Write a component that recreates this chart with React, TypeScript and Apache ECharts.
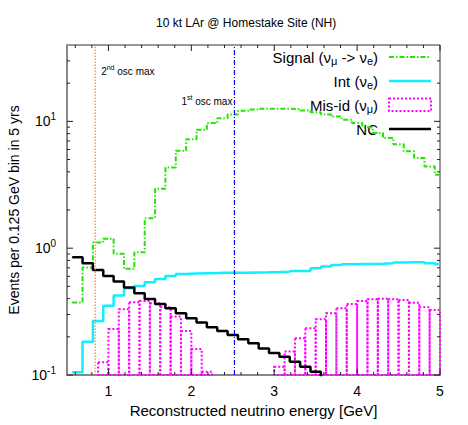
import React, { useEffect, useRef } from 'react';
import * as echarts from 'echarts';

// histogram step points (GeV), gnuplot "histeps" style
const stepEnergies = [0.625, 0.75, 0.875, 1.0, 1.125, 1.25, 1.375, 1.5, 1.625, 1.75, 1.875, 2.0, 2.125, 2.25, 2.375, 2.5, 2.625, 2.75, 2.875, 3.0, 3.125, 3.25, 3.375, 3.5, 3.625, 3.75, 3.875, 4.0, 4.125, 4.25, 4.375, 4.5, 4.625, 4.75, 4.875, 5.0];
const signal = [0.373, 0.703, 1.107, 1.184, 0.902, 0.687, 0.929, 1.725, 2.94, 4.33, 5.86, 7.24, 8.59, 9.7, 10.6, 11.3, 12.1, 12.4, 12.6, 12.6, 12.6, 12.5, 12.2, 11.8, 11.3, 10.9, 10.3, 9.7, 9.0, 8.1, 7.4, 6.6, 5.8, 5.13, 4.41, 3.79];
const intrinsic = [0.105, 0.183, 0.267, 0.351, 0.423, 0.483, 0.504, 0.539, 0.572, 0.604, 0.627, 0.632, 0.635, 0.637, 0.64, 0.641, 0.641, 0.643, 0.645, 0.648, 0.652, 0.662, 0.662, 0.695, 0.716, 0.738, 0.748, 0.752, 0.752, 0.755, 0.76, 0.77, 0.775, 0.775, 0.762, 0.748];
const nc = [0.849, 0.762, 0.674, 0.604, 0.545, 0.489, 0.441, 0.398, 0.363, 0.336, 0.307, 0.28, 0.259, 0.238, 0.222, 0.207, 0.191, 0.178, 0.162, 0.149, 0.139, 0.127, 0.116, 0.106, 0.09];
// mis-id boxes (centers, GeV) and heights
const misidCenters = [0.9375, 1.0625, 1.1875, 1.3125, 1.4375, 1.5625, 1.6875, 1.8125, 1.9375, 2.0625, 2.1875, 3.0625, 3.1875, 3.3125, 3.4375, 3.5625, 3.6875, 3.8125, 3.9375, 4.0625, 4.1875, 4.3125, 4.4375, 4.5625, 4.6875, 4.8125, 4.9375];
const misid = [0.126, 0.231, 0.33, 0.375, 0.384, 0.368, 0.342, 0.289, 0.222, 0.16, 0.106, 0.116, 0.153, 0.195, 0.234, 0.275, 0.307, 0.336, 0.363, 0.384, 0.396, 0.4, 0.396, 0.391, 0.372, 0.342, 0.326];

const xMajorTicks = [1, 2, 3, 4, 5];
const xMinorTicks = [0.6, 0.8, 1.2, 1.4, 1.6, 1.8, 2.2, 2.4, 2.6, 2.8, 3.2, 3.4, 3.6, 3.8, 4.2, 4.4, 4.6, 4.8];
const yMajorTicks = [0.1, 1, 10];
const yMinorTicks = [0.2, 0.3, 0.4, 0.5, 0.6, 0.7, 0.8, 0.9, 2, 3, 4, 5, 6, 7, 8, 9, 20, 30];

const osc2nd = 0.84;
const osc1st = 2.52;

const BIN = 0.125;
const X_MIN = 0.5, X_MAX = 5;
const Y_MIN = 0.1, Y_MAX = 40;
const FONT = 'Liberation Sans, Arial, sans-serif';

function stepData(values: number[]) {
  const d: number[][] = values.map((v, i) => [stepEnergies[i] - BIN / 2, v]);
  const last = values.length - 1;
  d.push([Math.min(stepEnergies[last] + BIN / 2, X_MAX), values[last]]);
  return d;
}

export default function App() {
  const ref = useRef<HTMLDivElement>(null);
  useEffect(() => {
    document.body.style.margin = '0';
    const chart = echarts.init(ref.current!, null, { renderer: 'svg' });
    const tickData: any[] = [];
    xMajorTicks.forEach(v => tickData.push([v, 1, 0]));
    xMinorTicks.forEach(v => tickData.push([v, 1, 1]));
    yMajorTicks.forEach(v => tickData.push([1, v, 2]));
    yMinorTicks.forEach(v => tickData.push([1, v, 3]));

    const option: any = {
      animation: false,
      textStyle: { fontFamily: FONT },
      grid: {
        left: 67, right: 28, top: 45, bottom: 50, show: true, borderColor: '#333', borderWidth: 1,
        containLabel: false, outerBoundsMode: 'none',
      },
      xAxis: {
        type: 'value', min: X_MIN, max: X_MAX, interval: 0.5,
        axisLine: { show: true, lineStyle: { color: '#888', width: 2 } },
        axisTick: { show: false },
        splitLine: { show: false },
        axisLabel: {
          color: '#000', fontSize: 14, margin: 9,
          formatter: (v: number) => (Math.abs(v - Math.round(v)) < 1e-6 ? String(Math.round(v)) : ''),
        },
        name: 'Reconstructed neutrino energy [GeV]', nameLocation: 'middle', nameGap: 21,
        nameTextStyle: { color: '#000', fontSize: 15 },
      },
      yAxis: {
        type: 'log', logBase: 10, min: Y_MIN, max: Y_MAX,
        axisLine: { show: true, lineStyle: { color: '#888', width: 2 } },
        axisTick: { show: false },
        splitLine: { show: false },
        minorTick: { show: false },
        axisLabel: {
          margin: 11,
          formatter: (v: number) => {
            const e = Math.log10(v);
            if (Math.abs(e - Math.round(e)) > 1e-6) return '';
            return `{b|10}{s|${Math.round(e)}}`;
          },
          rich: {
            b: { fontSize: 14, lineHeight: 20, color: '#000', fontFamily: FONT },
            s: { fontSize: 10, lineHeight: 11, verticalAlign: 'top', color: '#000', fontFamily: FONT },
          },
        },
        name: 'Events per 0.125 GeV bin in 5 yrs', nameLocation: 'middle', nameGap: 46, nameRotate: 90,
        nameTextStyle: { color: '#000', fontSize: 14 },
      },
      series: [
        {
          type: 'custom', name: 'ticks', z: 5, silent: true, clip: false,
          data: tickData,
          renderItem: (params: any, api: any) => {
            const cs = params.coordSys;
            const kind = api.value(2);
            const children: any[] = [];
            const st = { stroke: '#222', lineWidth: 1 };
            if (kind <= 1) {
              const px = api.coord([api.value(0), 1])[0];
              const len = kind === 0 ? 6 : 3;
              children.push({ type: 'line', shape: { x1: px, y1: cs.y + cs.height, x2: px, y2: cs.y + cs.height - len }, style: st });
              children.push({ type: 'line', shape: { x1: px, y1: cs.y, x2: px, y2: cs.y + len }, style: st });
            } else {
              const py = api.coord([1, api.value(1)])[1];
              const len = kind === 2 ? 6 : 3;
              children.push({ type: 'line', shape: { x1: cs.x, y1: py, x2: cs.x + len, y2: py }, style: st });
              children.push({ type: 'line', shape: { x1: cs.x + cs.width, y1: py, x2: cs.x + cs.width - len, y2: py }, style: st });
            }
            return { type: 'group', children };
          },
        },
        {
          type: 'line', name: 'osc2', data: [[osc2nd, Y_MIN], [osc2nd, Y_MAX]], symbol: 'none', z: 6, silent: true,
          lineStyle: { color: '#ff7a40', width: 1.2, type: [1.5, 1.5] },
        },
        {
          type: 'line', name: 'osc1', data: [[osc1st, Y_MIN], [osc1st, Y_MAX]], symbol: 'none', z: 6, silent: true,
          lineStyle: { color: '#0000ff', width: 1.2, type: [5, 2, 1, 2] },
        },
        {
          type: 'line', name: 'Signal', data: stepData(signal), step: 'end', symbol: 'none', z: 3,
          lineStyle: { color: '#22e600', width: 2, type: [5, 2, 1.5, 2] },
        },
        {
          type: 'line', name: 'Int', data: stepData(intrinsic), step: 'end', symbol: 'none', z: 3,
          lineStyle: { color: '#10eeff', width: 2.5 },
        },
        {
          type: 'custom', name: 'Mis-id', z: 3,
          data: misidCenters.map((c, i) => [c, misid[i]]),
          renderItem: (params: any, api: any) => {
            const c = api.value(0), v = api.value(1);
            const tl = api.coord([c - BIN / 2, v]);
            const br = api.coord([c + BIN / 2, Y_MIN]);
            return {
              type: 'rect',
              shape: { x: tl[0], y: tl[1], width: br[0] - tl[0], height: br[1] - tl[1] },
              style: { fill: 'none', stroke: '#ff00ff', lineWidth: 2, lineDash: [2, 2] },
            };
          },
        },
        {
          type: 'line', name: 'NC', data: stepData(nc), step: 'end', symbol: 'none', z: 4,
          lineStyle: { color: '#000', width: 2.5 },
        },
      ],
    };
    chart.setOption(option);

    const p2 = chart.convertToPixel({ xAxisIndex: 0, yAxisIndex: 0 }, [osc2nd, 1]) as number[];
    const p1 = chart.convertToPixel({ xAxisIndex: 0, yAxisIndex: 0 }, [osc1st, 1]) as number[];
    const supRich = {
      b: { fontSize: 10, lineHeight: 14, color: '#000', fontFamily: FONT },
      s: { fontSize: 7, lineHeight: 8, verticalAlign: 'top', color: '#000', fontFamily: FONT },
    };
    const subRich = {
      b: { fontSize: 15, lineHeight: 19, color: '#000', fontFamily: FONT },
      u: { fontSize: 11, lineHeight: 9, verticalAlign: 'bottom', color: '#000', fontFamily: FONT },
    };
    const legendRows = [
      { text: '{b|Signal (ν}{u|μ}{b| -> ν}{u|e}{b|)}', y: 57 },
      { text: '{b|Int (ν}{u|e}{b|)}', y: 81 },
      { text: '{b|Mis-id (ν}{u|μ}{b|)}', y: 105 },
      { text: '{b|NC}', y: 129 },
    ];
    const graphic: any[] = [
      {
        type: 'text', left: 253 - 97, top: 17,
        style: { text: '10 kt LAr @ Homestake Site (NH)', fontSize: 12, fill: '#000', fontFamily: FONT },
      },
      {
        type: 'text', x: p2[0] + 6, y: 71,
        style: { text: '{b|2}{s|nd}{b| osc max}', rich: supRich, verticalAlign: 'middle', align: 'left' },
      },
      {
        type: 'text', x: p1[0] - 2, y: 101,
        style: { text: '{b|1}{s|st}{b| osc max}', rich: supRich, verticalAlign: 'middle', align: 'right' },
      },
    ];
    legendRows.forEach(r => {
      graphic.push({ type: 'text', x: 378, y: r.y, style: { text: r.text, rich: subRich, align: 'right', verticalAlign: 'middle' } });
    });
    graphic.push({ type: 'line', shape: { x1: 389, y1: 57, x2: 431, y2: 57 }, style: { stroke: '#22e600', lineWidth: 2, lineDash: [5, 2, 1.5, 2] } });
    graphic.push({ type: 'line', shape: { x1: 389, y1: 81, x2: 431, y2: 81 }, style: { stroke: '#10eeff', lineWidth: 2.5 } });
    graphic.push({ type: 'rect', shape: { x: 389, y: 98.5, width: 42, height: 12.5 }, style: { fill: 'none', stroke: '#ff00ff', lineWidth: 2, lineDash: [2, 2] } });
    graphic.push({ type: 'line', shape: { x1: 389, y1: 129, x2: 431, y2: 129 }, style: { stroke: '#000', lineWidth: 2.5 } });
    chart.setOption({ graphic });

    return () => chart.dispose();
  }, []);
  return <div ref={ref} style={{ width: 468, height: 425 }} />;
}
